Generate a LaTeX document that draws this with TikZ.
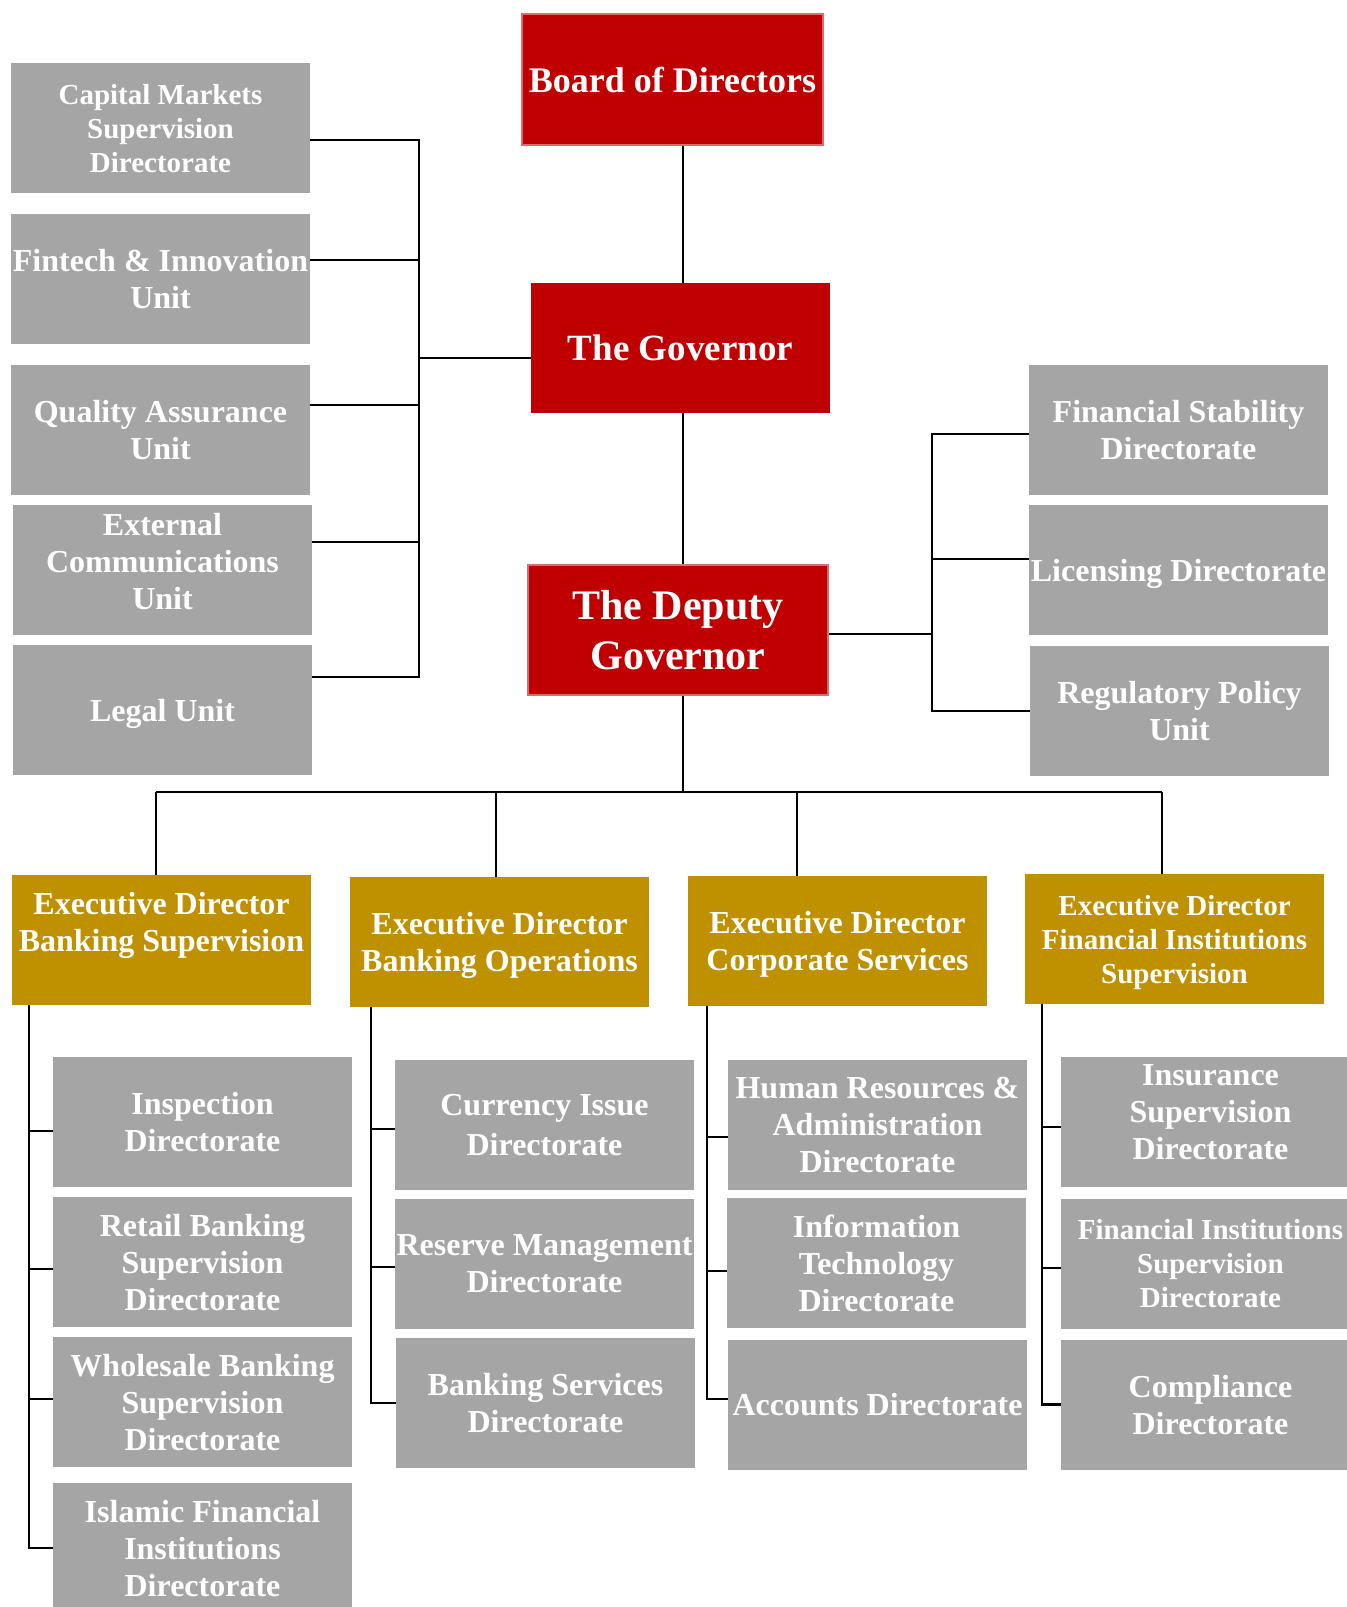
\documentclass[tikz,border=0pt]{standalone}
\usepackage{fontspec}
\setmainfont{Liberation Serif}
\definecolor{redc}{RGB}{192,0,0}
\definecolor{redb}{RGB}{214,110,110}
\definecolor{grayc}{RGB}{165,165,165}
\definecolor{goldc}{RGB}{191,144,0}
\newcommand{\fs}[2]{\bfseries\fontsize{#1}{#2}\selectfont}
\begin{document}
\begin{tikzpicture}[x=1pt,y=-1pt,
  base/.style={rectangle, inner sep=0pt, align=center, text=white, font=\fs{32}{37},
    minimum width=299pt, minimum height=130pt, text depth=-4pt},
  gbox/.style={base, fill=grayc},
  rbox/.style={base, fill=redc},
  rboxb/.style={base, fill=redc, draw=redb, line width=1.5pt},
  ybox/.style={base, fill=goldc},
  conn/.style={draw=black, line width=2.5pt}]
\useasboundingbox (0,0) rectangle (1347,1607);
\clip (0,0) rectangle (1347,1607);

% top chain
\node[rboxb, minimum width=301pt, minimum height=131pt, font=\fs{36}{42}] (board) at (672.5,79.5) {Board of Directors};
\node[rbox, font=\fs{37}{43}] (gov) at (680.5,348) {The Governor};
\node[rboxb, minimum width=300pt, font=\fs{42}{50}] (dep) at (678,630) {The Deputy\\Governor};

% left units
\node[gbox, font=\fs{29}{34}] (cap) at (160.5,128) {Capital Markets\\Supervision\\Directorate};
\node[gbox] (fin) at (160.5,279) {Fintech \& Innovation\\Unit};
\node[gbox] (qa) at (160.5,430) {Quality Assurance\\Unit};
\node[gbox, text depth=0pt] (ext) at (162.5,570) {External\\Communications\\Unit\\[-19pt]\mbox{}};
\node[gbox] (legal) at (162.5,710) {Legal Unit};

% right units
\node[gbox] (fstab) at (1178.5,430) {Financial Stability\\Directorate};
\node[gbox] (lic) at (1178.5,570) {Licensing Directorate};
\node[gbox] (reg) at (1179.5,711) {Regulatory Policy\\Unit};

% executive directors
\node[ybox, text depth=0pt] (edbs) at (161.5,940) {Executive Director\\Banking Supervision\\[-1pt]\mbox{}};
\node[ybox] (edbo) at (499.5,942) {Executive Director\\Banking Operations};
\node[ybox] (edcs) at (837.5,941) {Executive Director\\Corporate Services};
\node[ybox, font=\fs{29}{34}, text depth=-10pt] (edfis) at (1174.5,939) {Executive Director\\Financial Institutions\\Supervision};

% banking supervision column
\node[gbox] (insp) at (202.5,1122) {Inspection\\Directorate};
\node[gbox] (retail) at (202.5,1262) {Retail Banking\\Supervision\\Directorate};
\node[gbox] (whole) at (202.5,1402) {Wholesale Banking\\Supervision\\Directorate};
\node[gbox] (islamic) at (202.5,1548) {Islamic Financial\\Institutions\\Directorate};

% banking operations column
\node[gbox, font=\fs{32}{40}] (cur) at (544.5,1125) {Currency Issue\\Directorate};
\node[gbox] (res) at (544.5,1264) {Reserve Management\\Directorate};
\node[gbox] (bsd) at (545.5,1403) {Banking Services\\Directorate};

% corporate services column
\node[gbox] (hr) at (877.5,1124.5) {Human Resources \&\\Administration\\Directorate};
\node[gbox] (it) at (876.5,1263) {Information\\Technology\\Directorate};
\node[gbox] (acc) at (877.5,1404.5) {Accounts Directorate};

% financial institutions supervision column
\node[gbox, text depth=0pt] (ins) at (1210.5,1122) {Insurance\\Supervision\\Directorate\\[-17pt]\mbox{}};
\node[gbox, font=\fs{29}{34}] (fisd) at (1210.5,1263.5) {Financial Institutions\\Supervision\\Directorate};
\node[gbox] (comp) at (1210.5,1404.5) {Compliance\\Directorate};

% helper coordinates
\coordinate (spine) at (683,0);
\coordinate (lbus) at (419,0);
\coordinate (rbus) at (932,0);
\coordinate (bus) at (0,792);
\coordinate (bsx) at ([xshift=17pt]edbs.south west);
\coordinate (box) at ([xshift=21pt]edbo.south west);
\coordinate (csx) at ([xshift=19pt]edcs.south west);
\coordinate (fisx) at ([xshift=17pt]edfis.south west);

% spine
\draw[conn] (board.south -| spine) -- (gov.north -| spine);
\draw[conn] (gov.south -| spine) -- (dep.north -| spine);
\draw[conn] (dep.south -| spine) -- (spine |- bus);

% governor's units
\draw[conn] ([yshift=-10pt]gov.west) -- ([yshift=-10pt]gov.west -| lbus);
\draw[conn] ([yshift=-12pt]cap.east) -| ([yshift=33pt]legal.east -| lbus) -- ([yshift=33pt]legal.east);
\draw[conn] ([yshift=19pt]fin.east) -- ([yshift=19pt]fin.east -| lbus);
\draw[conn] ([yshift=25pt]qa.east) -- ([yshift=25pt]qa.east -| lbus);
\draw[conn] ([yshift=28pt]ext.east) -- ([yshift=28pt]ext.east -| lbus);

% deputy's units
\draw[conn] ([yshift=-4pt]dep.east) -- ([yshift=-4pt]dep.east -| rbus);
\draw[conn] ([yshift=-4pt]fstab.west) -| ([yshift=0pt]reg.west -| rbus) -- (reg.west);
\draw[conn] ([yshift=11pt]lic.west) -- ([yshift=11pt]lic.west -| rbus);

% bus to executive directors
\draw[conn] ([xshift=-5.5pt]edbs.north |- bus) -- ([xshift=-12.5pt]edfis.north |- bus);
\draw[conn] ([xshift=-5.5pt]edbs.north |- bus) -- ([xshift=-5.5pt]edbs.north);
\draw[conn] ([xshift=-3.5pt]edbo.north |- bus) -- ([xshift=-3.5pt]edbo.north);
\draw[conn] ([xshift=-40.5pt]edcs.north |- bus) -- ([xshift=-40.5pt]edcs.north);
\draw[conn] ([xshift=-12.5pt]edfis.north |- bus) -- ([xshift=-12.5pt]edfis.north);

% banking supervision column
\draw[conn] (bsx) |- (islamic.west);
\draw[conn] ([yshift=-9pt]insp.west) -- ([yshift=-9pt]insp.west -| bsx);
\draw[conn] ([yshift=-7pt]retail.west) -- ([yshift=-7pt]retail.west -| bsx);
\draw[conn] ([yshift=3pt]whole.west) -- ([yshift=3pt]whole.west -| bsx);

% banking operations column
\draw[conn] (box) |- (bsd.west);
\draw[conn] ([yshift=-4pt]cur.west) -- ([yshift=-4pt]cur.west -| box);
\draw[conn] ([yshift=-3pt]res.west) -- ([yshift=-3pt]res.west -| box);

% corporate services column
\draw[conn] (csx) |- ([yshift=5.5pt]acc.west);
\draw[conn] ([yshift=-12.5pt]hr.west) -- ([yshift=-12.5pt]hr.west -| csx);
\draw[conn] ([yshift=-8pt]it.west) -- ([yshift=-8pt]it.west -| csx);

% financial institutions supervision column
\draw[conn] (fisx) |- (comp.west);
\draw[conn] ([yshift=-5pt]ins.west) -- ([yshift=-5pt]ins.west -| fisx);
\draw[conn] ([yshift=-4.5pt]fisd.west) -- ([yshift=-4.5pt]fisd.west -| fisx);
\end{tikzpicture}
\end{document}
